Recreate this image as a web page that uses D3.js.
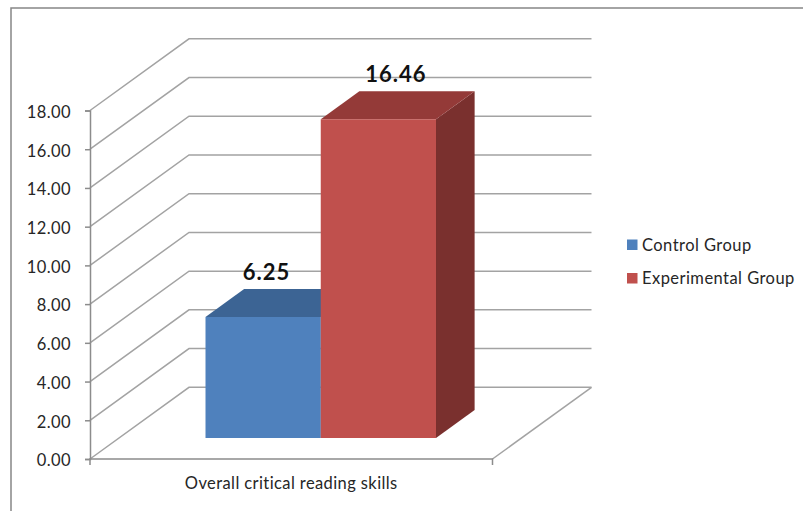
<!DOCTYPE html>
<html>
    <head>
        <script src="https://d3js.org/d3.v7.min.js"></script>
        <style>
            body { margin: 0; background: #fff; }
            svg { display: block; }
            text { font-family: Lato, "Open Sans", sans-serif; fill: #262626; }
            .axis text { font-size: 16.5px; letter-spacing: 0.4px; }
            .axis path, .axis line { stroke: #8c8c8c; stroke-width: 1.5; }
            .grid { fill: none; stroke: #a3a3a3; stroke-width: 1.5; }
            .value { font-size: 22px; font-weight: bold; fill: #111; text-anchor: middle; letter-spacing: 1px; }
            .legend text { font-size: 16.5px; letter-spacing: 0.45px; }
        </style>
    </head>
    <body>
        <svg width="803" height="511"></svg>
        <script>
            var category = ["Overall critical reading skills"];
            var seriesNames = ["Control Group", "Experimental Group"];
            var seriesValues = [6.25, 16.46];
            var tickValues = [0, 2, 4, 6, 8, 10, 12, 14, 16, 18];
            var frontColors = ["#4f81bd", "#c0504d"];
            var topColors = ["#3c6494", "#943a38"];
            var sideColors = ["#2f5077", "#7a302e"];

            var svg = d3.select("svg");

            // frame of the chart area, open at the right and the bottom
            svg.append("path")
                .attr("d", d3.line()([[11, 511], [11, 8], [803, 8]]))
                .attr("fill", "none")
                .attr("stroke", "#868686")
                .attr("stroke-width", 1.5);

            var y = d3.scaleLinear().domain([0, 18]).range([459, 110.5]);
            var x = d3.scaleBand().domain(category).range([90, 492.5]);
            // inner band holds the two bars, they touch each other
            var xSeries = d3.scaleBand().domain(seriesNames).range([176.5, 407]);

            // depth of the 3d box: 0 is front of the floor, 1 is the back wall
            var depthX = d3.scaleLinear().domain([0, 1]).range([0, 99]);
            var depthY = d3.scaleLinear().domain([0, 1]).range([0, -71.7]);
            var barFront = 0.293, barBack = 0.683;

            function project(px, value, depth) {
                return [px + depthX(depth), y(value) + depthY(depth)];
            }

            var line = d3.line();
            var x0 = x.range()[0], x1 = x.range()[1];

            // side wall and back wall gridlines
            svg.append("g").selectAll("path")
                .data(tickValues)
                .enter()
                .append("path")
                .attr("class", "grid")
                .attr("d", function(d) {
                    return line([project(x0, d, 0), project(x0, d, 1), project(x1, d, 1)]);
                });

            // right edge of the floor
            svg.append("path")
                .attr("class", "grid")
                .attr("d", line([project(x1, 0, 0), project(x1, 0, 1)]));

            var axisLeft = d3.axisLeft(y)
                .tickValues(tickValues)
                .tickFormat(d3.format(".2f"))
                .tickSize(5)
                .tickPadding(14);

            var axisBottom = d3.axisBottom(x).tickSize(0).tickPadding(18);

            var gx = svg.append("g")
                .attr("class", "axis")
                .attr("transform", "translate(0," + y(0) + ")")
                .call(axisBottom);

            // the category axis has its ticks on the two ends
            gx.select(".domain").attr("d", "M" + x0 + ",6V0H" + x1 + "V6");

            var gy = svg.append("g")
                .attr("class", "axis")
                .attr("transform", "translate(" + x0 + ",0)")
                .call(axisLeft);

            // tick labels sit a little under their ticks
            gy.selectAll("text").attr("y", 1.5);

            // bars, blue first so the red one covers its side
            var bars = svg.append("g").selectAll("g")
                .data(seriesNames)
                .enter()
                .append("g");

            function valueOf(i) { return seriesValues[i]; }

            bars.append("path")
                .attr("fill", function(d, i) { return sideColors[i]; })
                .attr("d", function(d, i) {
                    var r = xSeries(d) + xSeries.bandwidth();
                    return line([
                        project(r, 0, barFront), project(r, valueOf(i), barFront),
                        project(r, valueOf(i), barBack), project(r, 0, barBack)
                    ]) + "Z";
                });

            bars.append("path")
                .attr("fill", function(d, i) { return topColors[i]; })
                .attr("d", function(d, i) {
                    var l = xSeries(d), r = l + xSeries.bandwidth();
                    return line([
                        project(l, valueOf(i), barFront), project(r, valueOf(i), barFront),
                        project(r, valueOf(i), barBack), project(l, valueOf(i), barBack)
                    ]) + "Z";
                });

            bars.append("path")
                .attr("fill", function(d, i) { return frontColors[i]; })
                .attr("d", function(d, i) {
                    var l = xSeries(d), r = l + xSeries.bandwidth();
                    return line([
                        project(l, 0, barFront), project(r, 0, barFront),
                        project(r, valueOf(i), barFront), project(l, valueOf(i), barFront)
                    ]) + "Z";
                });

            // value labels sit above the top face
            var labelShift = [3.5, 17.5];
            svg.append("g").selectAll("text")
                .data(seriesNames)
                .enter()
                .append("text")
                .attr("class", "value")
                .attr("x", function(d, i) {
                    return project(xSeries(d) + xSeries.bandwidth() / 2, 0, barFront)[0] + labelShift[i];
                })
                .attr("y", function(d, i) { return project(0, valueOf(i), barBack)[1] - 9.5; })
                .text(function(d, i) { return valueOf(i).toFixed(2); });

            var legend = svg.append("g")
                .attr("class", "legend")
                .selectAll("g")
                .data(seriesNames)
                .enter()
                .append("g")
                .attr("transform", function(d, i) { return "translate(627," + (245 + i * 33.5) + ")"; });

            legend.append("rect")
                .attr("y", -5.5)
                .attr("width", 10.5)
                .attr("height", 10.5)
                .attr("fill", function(d, i) { return frontColors[i]; });

            legend.append("text")
                .attr("x", 15)
                .attr("dy", "0.35em")
                .text(function(d) { return d; });
        </script>
    </body>
</html>
